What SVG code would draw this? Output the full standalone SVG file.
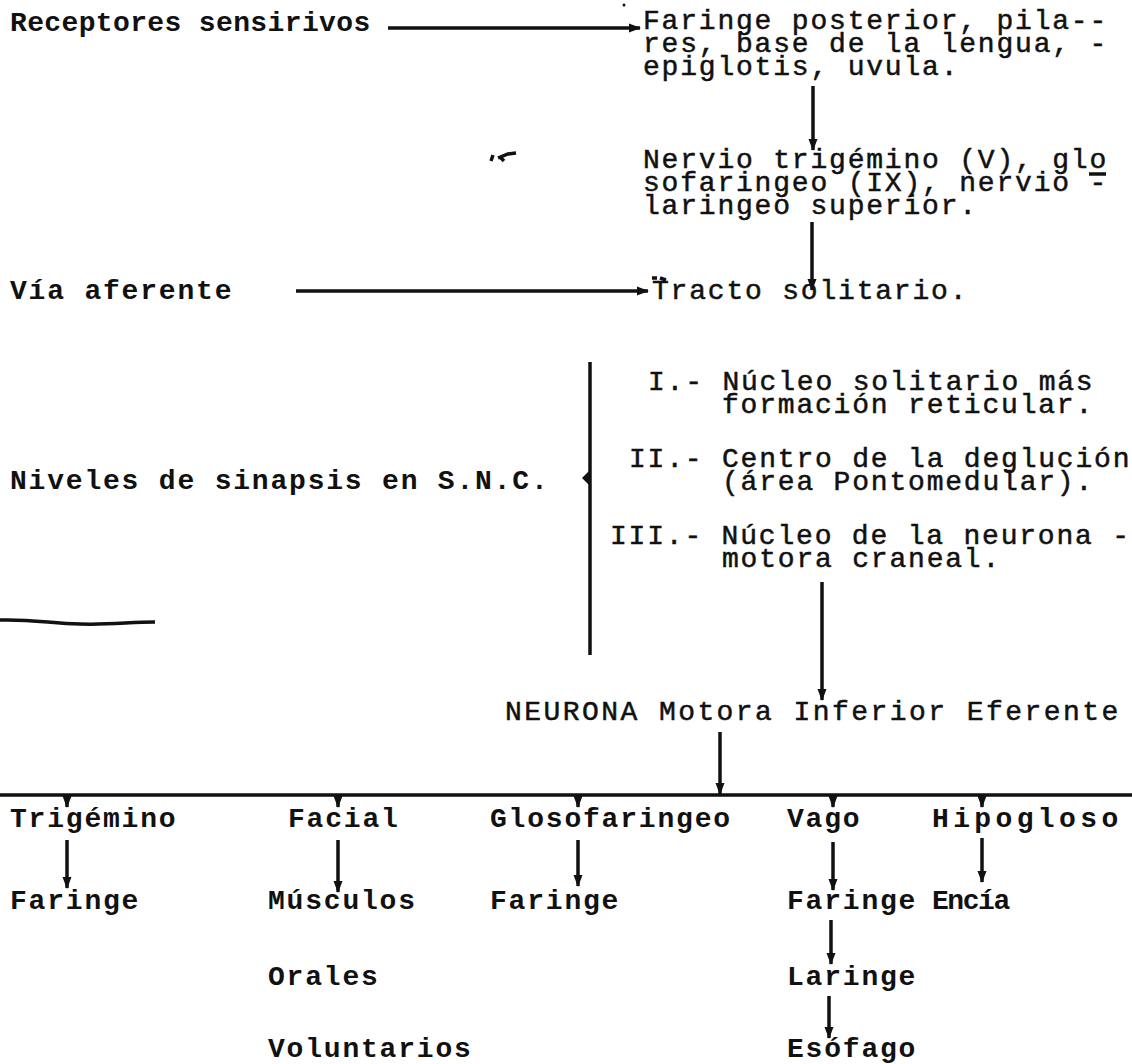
<svg xmlns="http://www.w3.org/2000/svg" width="1132" height="1064" viewBox="0 0 1132 1064">
<defs>
<marker id="ah" markerUnits="userSpaceOnUse" markerWidth="12" markerHeight="10" refX="11" refY="5" orient="auto">
<path d="M0,0.5 L12,5 L0,9.5 z" fill="#111"/>
</marker>
<style>
text{font-family:"Liberation Mono","DejaVu Sans Mono",monospace;font-size:28px;letter-spacing:1.8px;fill:#111;font-weight:bold}
text.r{font-weight:normal;stroke:#111;stroke-width:0.5}
.c{stroke:#111;stroke-width:3.5;fill:none}
.a{stroke:#111;stroke-width:3.5;fill:none;marker-end:url(#ah)}
.m{fill:#111}
</style>
</defs>
<rect width="1132" height="1064" fill="#fff"/>
<g id="receptores"><text x="10" y="31" textLength="362">Receptores sensirivos</text></g>
<g id="faringe-posterior"><text class="r" x="643" y="29">Faringe posterior, pila--</text><text class="r" x="643" y="52">res, base de la lengua, -</text><text class="r" x="643" y="75">epiglotis, uvula.</text></g>
<g id="nervio"><text class="r" x="643" y="168">Nervio trigémino (V), glo</text><text class="r" x="643" y="191">sofaringeo (IX), nervio -</text><text class="r" x="643" y="214">laringeo superior.</text><path class="c" d="M1089,174 H1106" stroke-width="2"/></g>
<g id="via-aferente"><text x="10" y="299">Vía aferente</text></g>
<g id="tracto"><text class="r" x="652" y="299">Tracto solitario.</text></g>
<g id="niveles"><text x="10" y="489">Niveles de sinapsis en S.N.C.</text></g>
<g id="nivel-1"><text class="r" x="648" y="390">I.- Núcleo solitario más</text><text class="r" x="722" y="413">formación reticular.</text></g>
<g id="nivel-2"><text class="r" x="629" y="467">II.- Centro de la deglución</text><text class="r" x="722" y="490">(área Pontomedular).</text></g>
<g id="nivel-3"><text class="r" x="610" y="544">III.- Núcleo de la neurona -</text><text class="r" x="722" y="567">motora craneal.</text></g>
<g id="neurona"><text class="r" x="505" y="720" textLength="615">NEURONA Motora Inferior Eferente</text></g>
<g id="trigemino"><text x="10" y="827">Trigémino</text></g>
<g id="facial"><text x="288" y="827">Facial</text></g>
<g id="glosofaringeo"><text x="490" y="827">Glosofaringeo</text></g>
<g id="vago"><text x="787" y="827">Vago</text></g>
<g id="hipogloso"><text x="932" y="827" textLength="188">Hipogloso</text></g>
<g id="faringe-1"><text x="10" y="909">Faringe</text></g>
<g id="musculos"><text x="268" y="909">Músculos</text><text x="268" y="985">Orales</text><text x="268" y="1057">Voluntarios</text></g>
<g id="faringe-2"><text x="490" y="909">Faringe</text></g>
<g id="faringe-3"><text x="787" y="909">Faringe</text></g>
<g id="encia"><text x="932" y="909" textLength="80">Encía</text></g>
<g id="laringe"><text x="787" y="985">Laringe</text></g>
<g id="esofago"><text x="787" y="1057">Esófago</text></g>
<g id="connectors">
<path class="a" d="M388,28 H640"/>
<path class="a" d="M813,86 V150"/>
<path class="a" d="M812,222 V290"/>
<path class="a" d="M296,291 H648"/>
<path class="c" d="M590,362 V655" stroke-width="4"/>
<path class="m" d="M590,470 L582,478 L590,486 z"/>
<path class="a" d="M822,582 V700"/>
<path class="a" d="M720,732 V794"/>
<path class="c" d="M0,795 H1132"/>
<path class="a" d="M67,797 V807"/>
<path class="a" d="M338,797 V807"/>
<path class="a" d="M578,797 V807"/>
<path class="a" d="M833,797 V807"/>
<path class="a" d="M982,797 V807"/>
<path class="a" d="M67,840 V888"/>
<path class="a" d="M338,840 V892"/>
<path class="a" d="M578,840 V886"/>
<path class="a" d="M833,842 V890"/>
<path class="a" d="M982,838 V882"/>
<path class="a" d="M831,920 V964"/>
<path class="a" d="M829,996 V1038"/>
</g>
<g id="marks">
<circle class="m" cx="624" cy="5" r="1.5"/>
<path class="c" stroke-width="2" d="M491,161 L493,155 M498,158 L508,154 L516,153 M500,157 L504,161"/>
<path class="c" stroke-width="1.5" d="M652,278 H657 M660,278 L666,280"/>
<path class="c" stroke-width="3" d="M0,620 C30,619 50,623 80,624 S130,622 155,622"/>
</g>
</svg>
